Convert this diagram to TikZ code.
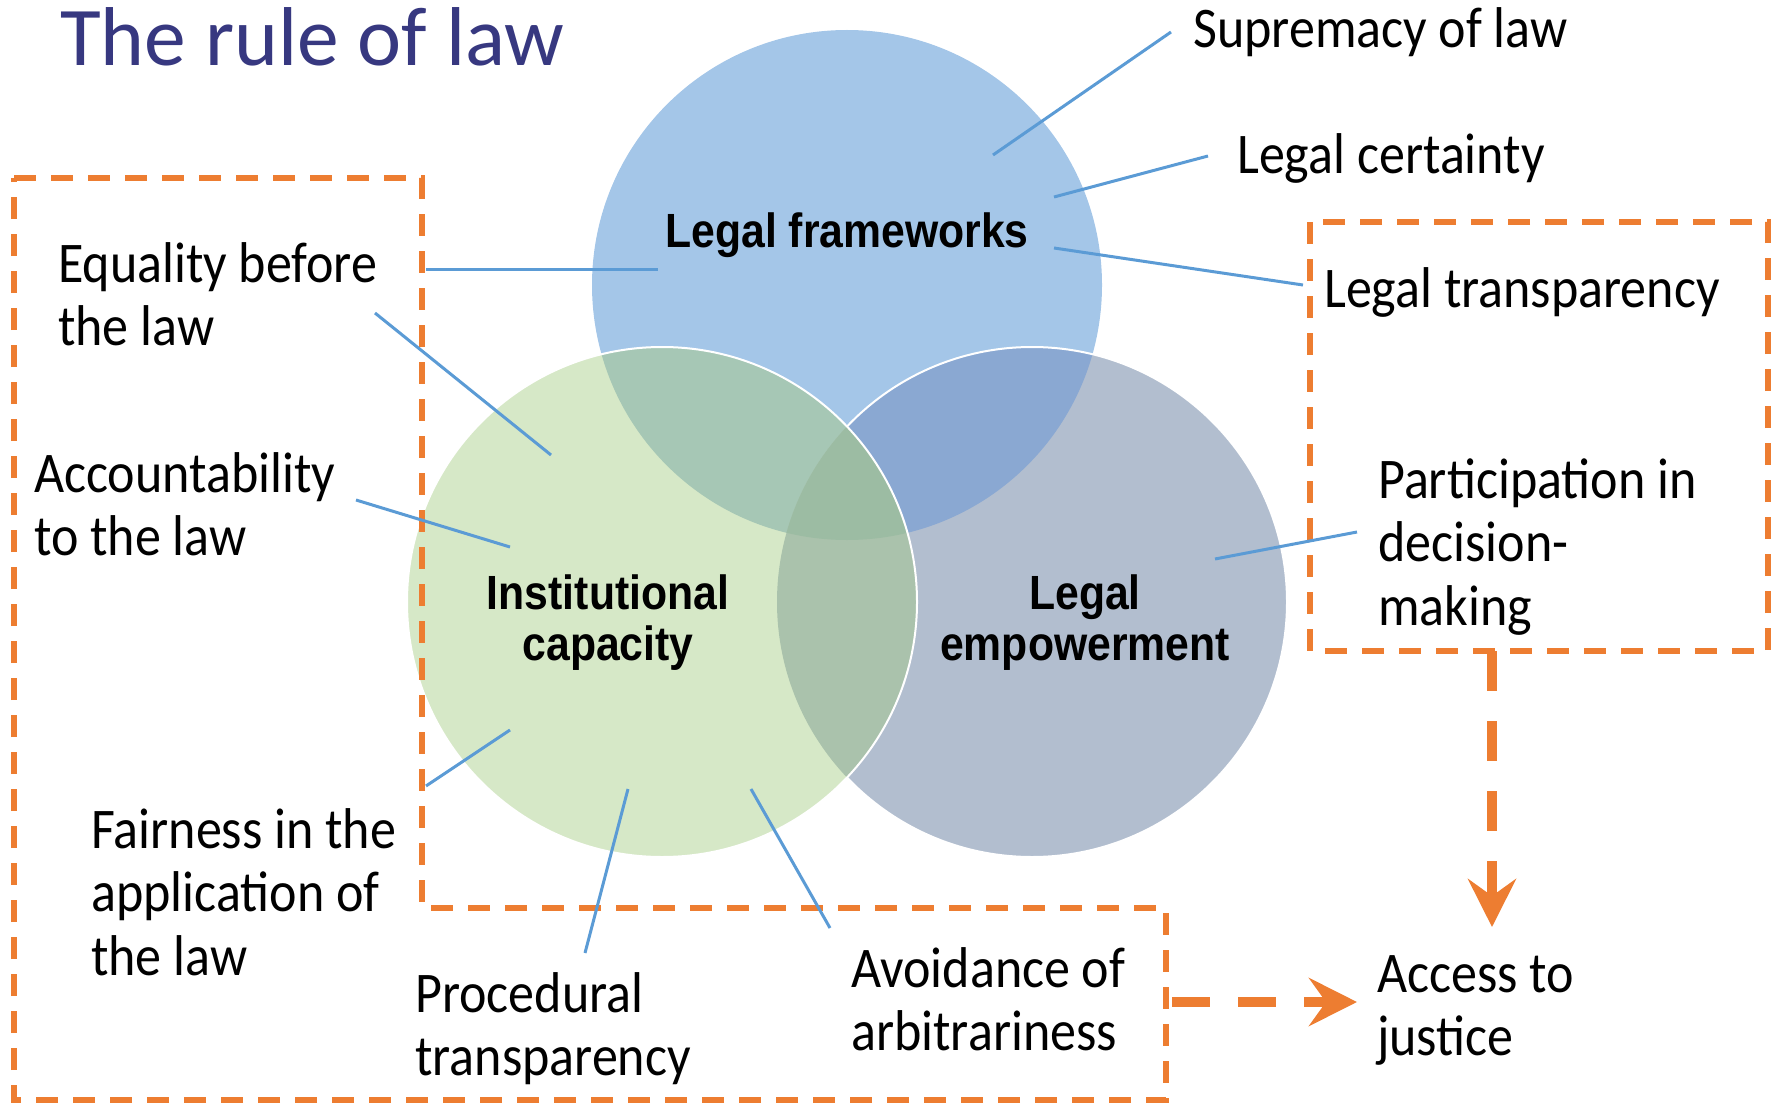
\documentclass[tikz,border=0pt]{standalone}
\usepackage{fontspec}
\usetikzlibrary{arrows.meta}
\setmainfont{Carlito}
\newfontfamily\labfont{Carlito}[FakeStretch=0.905]
\newfontfamily\titlefont{Carlito}
\newfontfamily\headfont{Liberation Sans}[FakeStretch=0.89]

\definecolor{titleblue}{RGB}{55,56,128}
\definecolor{dashorange}{HTML}{ED7D31}
\definecolor{linkblue}{HTML}{5B9BD5}
\definecolor{fwblue}{RGB}{164,198,232}
\definecolor{icgreen}{RGB}{214,232,199}
\definecolor{leggrey}{RGB}{178,190,207}
\definecolor{fwleg}{RGB}{138,168,210}
\definecolor{fwic}{RGB}{166,199,181}
\definecolor{icleg}{RGB}{170,194,172}
\definecolor{allthree}{RGB}{156,188,163}

% multi-line text blocks whose baseline is the first line
\newcommand\stackL[1]{\vtop{\halign{##\hfil\cr#1\crcr}}}
\newcommand\stackC[1]{\vtop{\halign{\hfil##\hfil\cr#1\crcr}}}
\newcommand\circr{255pt}

\tikzset{
  lab/.style={inner sep=0pt, anchor=base west,
    font=\labfont\fontsize{57.5}{63.5}\selectfont},
  head/.style={inner sep=0pt, anchor=base,
    font=\headfont\bfseries\fontsize{48}{51}\selectfont},
  conn/.style={draw=linkblue, line width=3pt},
  obox/.style={draw=dashorange, line width=6pt, dash pattern=on 22pt off 15pt},
  flow/.style={draw=dashorange, line width=10pt,
    -{Stealth[length=48pt, width=48pt, inset=17pt]}},
}

\begin{document}
\begin{tikzpicture}[x=1pt, y=-1pt]
\useasboundingbox (0,0) rectangle (1775,1105);

% circle centres
\coordinate (cB) at (847,285);
\coordinate (cG) at (662,602);
\coordinate (cE) at (1032,602);

% ---- Venn circles ----
\fill[fwblue] (cB) circle[radius=\circr];
\fill[leggrey] (cE) circle[radius=\circr];
\begin{scope}
  \clip (cB) circle[radius=\circr];
  \fill[fwleg] (cE) circle[radius=\circr];
\end{scope}
\draw[white, line width=2pt] (cE) circle[radius=\circr];
\fill[icgreen] (cG) circle[radius=\circr];
\begin{scope}
  \clip (cB) circle[radius=\circr];
  \fill[fwic] (cG) circle[radius=\circr];
\end{scope}
\begin{scope}
  \clip (cE) circle[radius=\circr];
  \fill[icleg] (cG) circle[radius=\circr];
\end{scope}
\begin{scope}
  \clip (cB) circle[radius=\circr];
  \clip (cE) circle[radius=\circr];
  \fill[allthree] (cG) circle[radius=\circr];
\end{scope}
\draw[white, line width=2pt] (cG) circle[radius=\circr];

% ---- circle titles ----
\node[head] (fw) at (847,247) {Legal frameworks};
\node[head] (ic) at (608,609) {\stackC{Institutional\cr capacity}};
\node[head] (le) at (1085,609) {\stackC{Legal\cr empowerment}};

% ---- title ----
\node[inner sep=0pt, anchor=base west, text=titleblue,
  font=\titlefont\fontsize{83.5}{90}\selectfont] (title) at (60,66) {The rule of law};

% ---- dashed groupings ----
\draw[obox] (14,178) -- (422,178) -- (422,908) -- (1166,908)
  -- (1166,1100) -- (14,1100) -- cycle;
\draw[obox] (1310,222) rectangle (1768,651);

% ---- principle labels ----
\node[lab] (sup) at (1193,48) {Supremacy of law};
\node[lab] (cert) at (1237,173) {Legal certainty};
\node[lab] (ltr) at (1324,307) {Legal transparency};
\node[lab] (eq) at (58,282) {\stackL{Equality before\cr the law}};
\node[lab] (acc) at (34,492) {\stackL{Accountability\cr to the law}};
\node[lab] (fair) at (91,848) {\stackL{Fairness in the\cr application of\cr the law}};
\node[lab] (proc) at (415,1012) {\stackL{Procedural\cr transparency}};
\node[lab] (avoid) at (851,987) {\stackL{Avoidance of\cr arbitrariness}};
\node[lab] (part) at (1378,498) {\stackL{Participation in\cr decision-\cr making}};
\node[lab] (just) at (1377,992) {\stackL{Access to\cr justice}};

% ---- connector end points ----
\coordinate (sup-o) at (1171,32);   \coordinate (sup-i) at (993,155);
\coordinate (cert-o) at (1208,156); \coordinate (cert-i) at (1054,197);
\coordinate (ltr-o) at (1303,285);  \coordinate (ltr-i) at (1054,248);
\coordinate (eq-o) at (426,269);    \coordinate (eq-i) at (658,269);
\coordinate (eq2-o) at (375,313);   \coordinate (eq2-i) at (551,455);
\coordinate (acc-o) at (356,500);   \coordinate (acc-i) at (510,547);
\coordinate (fair-o) at (426,786);  \coordinate (fair-i) at (510,730);
\coordinate (proc-o) at (585,953);  \coordinate (proc-i) at (628,789);
\coordinate (avoid-o) at (830,928); \coordinate (avoid-i) at (751,789);
\coordinate (part-o) at (1357,532); \coordinate (part-i) at (1215,559);

\draw[conn] (sup-o) -- (sup-i);
\draw[conn] (cert-o) -- (cert-i);
\draw[conn] (ltr-o) -- (ltr-i);
\draw[conn] (eq-o) -- (eq-i);
\draw[conn] (eq2-o) -- (eq2-i);
\draw[conn] (acc-o) -- (acc-i);
\draw[conn] (fair-o) -- (fair-i);
\draw[conn] (proc-o) -- (proc-i);
\draw[conn] (avoid-o) -- (avoid-i);
\draw[conn] (part-o) -- (part-i);

% ---- flows to access to justice ----
\coordinate (down-s) at (1492,651);  \coordinate (down-e) at (1492,927);
\coordinate (right-s) at (1172,1002); \coordinate (right-e) at (1357,1002);
\draw[flow, dash pattern=on 40pt off 30pt] (down-s) -- (down-e);
\draw[flow, dash pattern=on 38pt off 28pt] (right-s) -- (right-e);
\end{tikzpicture}
\end{document}
